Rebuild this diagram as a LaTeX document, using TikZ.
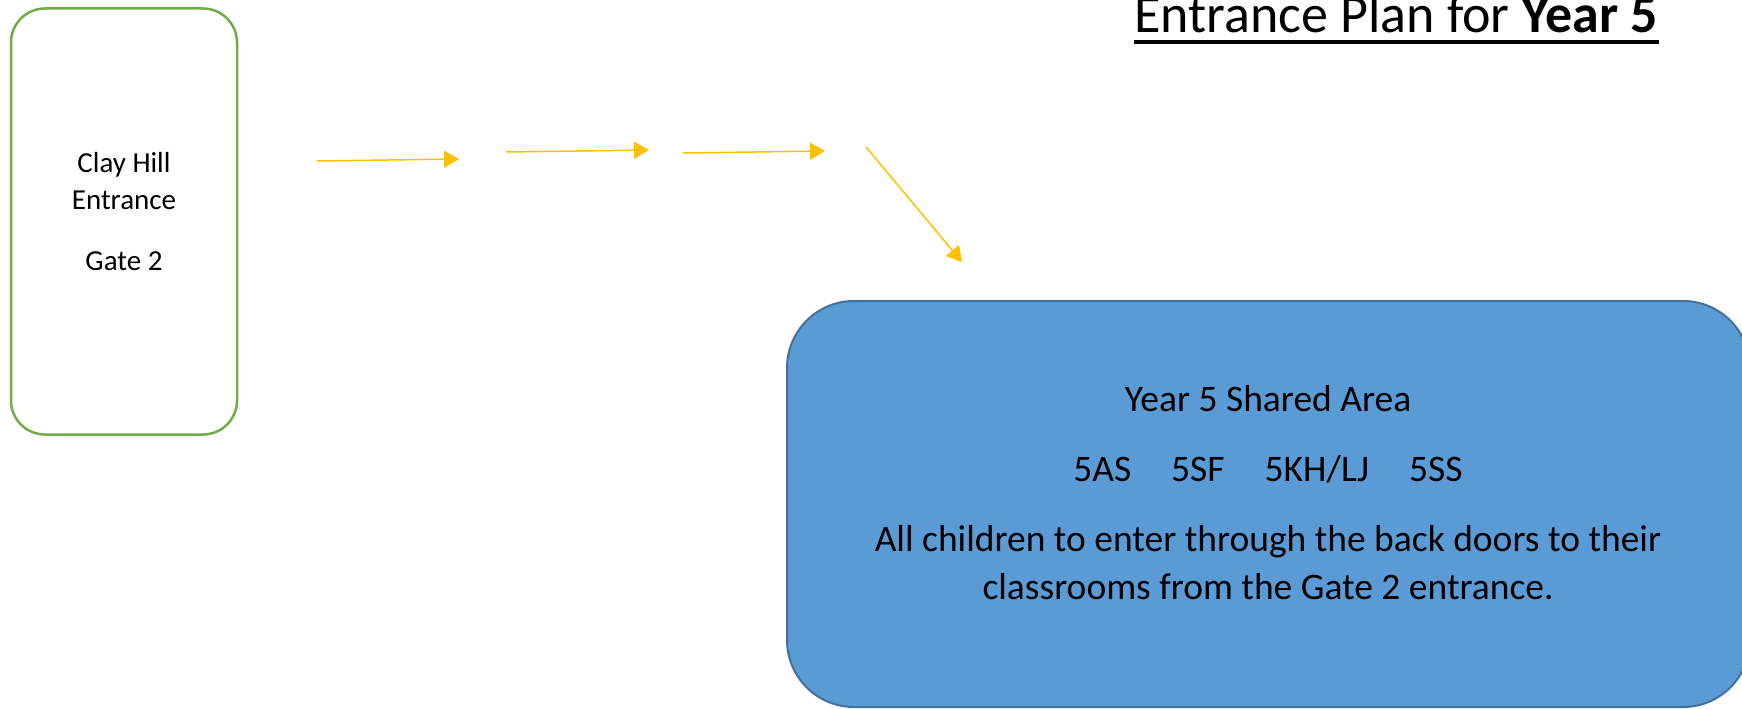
\documentclass[tikz,border=0pt]{standalone}
\usepackage{fontspec}
\setmainfont{Carlito}
\usetikzlibrary{arrows.meta}
\definecolor{gborder}{HTML}{70AD47}
\definecolor{bfill}{HTML}{5B9BD5}
\definecolor{bborder}{HTML}{41719C}
\definecolor{arrowc}{HTML}{FFC000}
\begin{document}
\begin{tikzpicture}[x=1pt,y=-1pt,
  gatebox/.style={draw=gborder, line width=2.5pt, rounded corners=34pt, minimum width=226pt, minimum height=426pt, inner sep=0pt},
  areabox/.style={draw=bborder, fill=bfill, line width=2pt, rounded corners=67pt, minimum width=963pt, minimum height=406pt, inner sep=0pt},
  gatetext/.style={anchor=base, font=\fontsize{29}{35}\selectfont, inner sep=0pt},
  areatext/.style={anchor=base, font=\fontsize{37.5}{45}\selectfont, inner sep=0pt},
  flow/.style={draw=arrowc, line width=1.5pt, -{Triangle[length=15pt,width=17pt]}}]
\useasboundingbox (0,0) rectangle (1742,709);
\clip (0,0) rectangle (1742,709);
% title
\node[anchor=base west, font=\fontsize{54}{64}\selectfont, inner sep=0pt] (title) at (1134,33) {Entrance Plan for \textbf{Year 5}};
\draw[line width=3.5pt] ([yshift=-9pt]title.base west) -- ([yshift=-9pt]title.base east);
% gate box
\node[gatebox] (gate) at (124,221.5) {};
\node[gatetext] (g1) at (124,172) {Clay Hill};
\node[gatetext] (g2) at (124,209) {Entrance};
\node[gatetext] (g3) at (124,270) {Gate 2};
% shared area box
\node[areabox] (area) at (1268.5,504) {};
\node[areatext] (t1) at (1268,411) {Year 5 Shared Area};
\node[areatext] (t2) at (1268,481) {5AS\hspace{40pt}5SF\hspace{40pt}5KH/LJ\hspace{40pt}5SS};
\node[areatext] (t3) at (1268,551) {All children to enter through the back doors to their};
\node[areatext] (t4) at (1268,599) {classrooms from the Gate 2 entrance.};
% arrows
\coordinate (a1s) at (317,161); \coordinate (a1e) at (459,159);
\coordinate (a2s) at (506,152); \coordinate (a2e) at (649,150);
\coordinate (a3s) at (683,153); \coordinate (a3e) at (825,151);
\coordinate (a4s) at (866,147); \coordinate (a4e) at (962,262);
\draw[flow] (a1s) -- (a1e);
\draw[flow] (a2s) -- (a2e);
\draw[flow] (a3s) -- (a3e);
\draw[flow] (a4s) -- (a4e);
\end{tikzpicture}
\end{document}
